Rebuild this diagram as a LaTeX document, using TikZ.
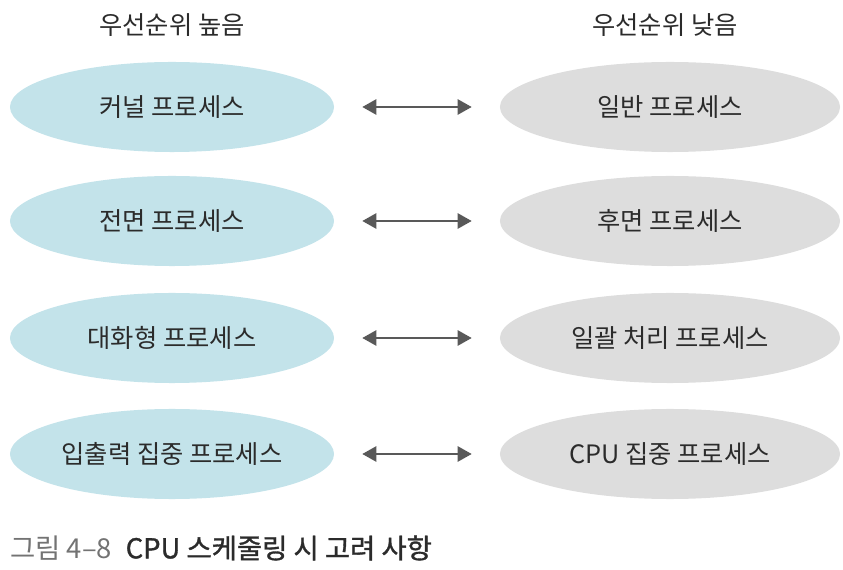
\documentclass[tikz,border=0pt]{standalone}
\usepackage{fontspec}
\setmainfont{Noto Sans CJK KR}
\newfontfamily\capfont[FakeBold=1.2]{Noto Sans CJK KR}
\usetikzlibrary{shapes.geometric, arrows.meta}
\definecolor{hicyan}{HTML}{C3E3EA}
\definecolor{logrey}{HTML}{DDDDDD}
\definecolor{txtgrey}{HTML}{2B2B2B}
\tikzset{>=stealth,
    highproc/.style={ellipse, fill=hicyan, minimum width=8.1cm, minimum height=2.25cm, inner sep=0pt, font=\fontsize{18}{21}\selectfont, text=txtgrey},
    lowproc/.style={ellipse, fill=logrey, minimum width=8.5cm, minimum height=2.25cm, inner sep=0pt, font=\fontsize{18}{21}\selectfont, text=txtgrey},
    headlabel/.style={font=\fontsize{18}{21}\selectfont, text=txtgrey},
    biarrow/.style={{Triangle[width=11pt,length=10pt]}-{Triangle[width=11pt,length=10pt]}, line width=1pt, color=black!65, shorten <=0.7cm, shorten >=0.7cm}}

\begin{document}
\begin{tikzpicture}[x=0.025cm, y=-0.025cm]
    \useasboundingbox (0,0) rectangle (843,570);
    % headings
    \node[headlabel] (hhigh) at (172,25) {우선순위 높음};
    \node[headlabel] (hlow) at (665,25) {우선순위 낮음};
    % high priority
    \node[highproc] (k1) at (172,107) {커널 프로세스};
    \node[highproc] (k2) at (172,221) {전면 프로세스};
    \node[highproc] (k3) at (172,338) {대화형 프로세스};
    \node[highproc] (k4) at (172,454) {입출력 집중 프로세스};
    % low priority
    \node[lowproc] (n1) at (670,107) {일반 프로세스};
    \node[lowproc] (n2) at (670,221) {후면 프로세스};
    \node[lowproc] (n3) at (670,338) {일괄 처리 프로세스};
    \node[lowproc] (n4) at (670,454) {CPU 집중 프로세스};
    \foreach \i in {1,...,4}
        \draw[biarrow] (k\i.east) -- (n\i.west);
    % caption
    \node[anchor=west, font=\fontsize{19.5}{23}\selectfont, inner sep=0pt] (cap) at (10,548)
        {\textcolor{black!55}{그림 4–8}\hspace{0.5em}\textcolor{txtgrey}{\capfont CPU 스케줄링 시 고려 사항}};
\end{tikzpicture}
\end{document}
